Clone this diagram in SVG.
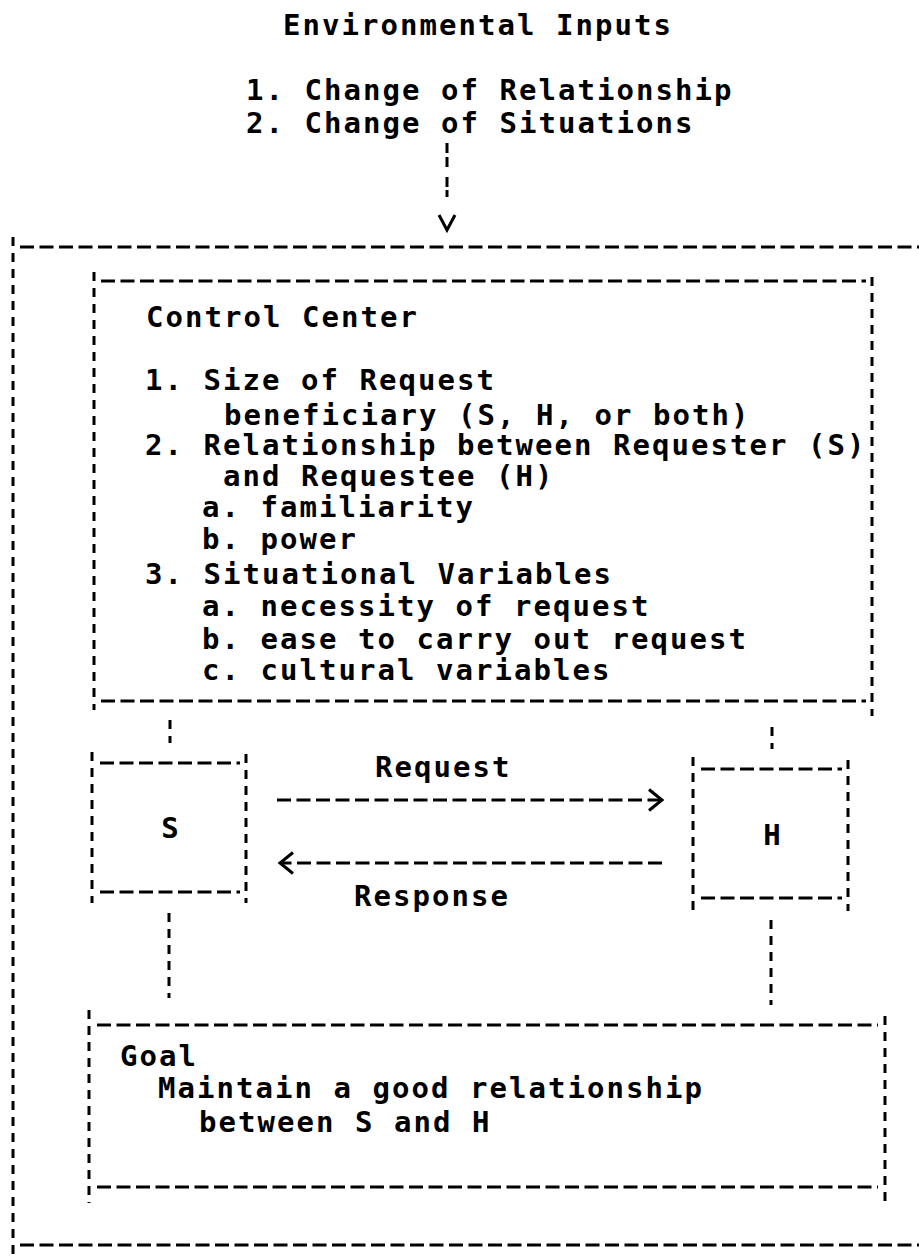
<svg xmlns="http://www.w3.org/2000/svg" width="919" height="1259" viewBox="0 0 919 1259">
  <style>
    text { font-family: "DejaVu Sans Mono", "Liberation Mono", monospace; font-size: 29px; font-weight: bold; letter-spacing: 2.04px; fill: #000; }
    .mid { text-anchor: middle; }
    .h { fill: none; stroke: #000; stroke-width: 3; stroke-dasharray: 14 5.5; }
    .v { fill: none; stroke: #000; stroke-width: 3; stroke-dasharray: 9 7; }
    .arrow { fill: none; stroke: #000; stroke-width: 3; stroke-dasharray: 14 5.5; }
    .tip { fill: none; stroke: #000; stroke-width: 3; stroke-linejoin: miter; }
  </style>
  <defs>
    <marker id="chevron" markerUnits="userSpaceOnUse" viewBox="-20 -15 30 30" markerWidth="30" markerHeight="30" refX="0" refY="0" orient="auto">
      <path class="tip" d="M-13,-10.5 L0,0 L-13,10.5"/>
    </marker>
    <marker id="vee" markerUnits="userSpaceOnUse" viewBox="-20 -15 30 30" markerWidth="30" markerHeight="30" refX="0" refY="0" orient="auto">
      <path class="tip" d="M-15,-8 L0,0 L-15,8"/>
    </marker>
  </defs>

  <rect width="919" height="1259" fill="#fff"/>

  <!-- environmental inputs heading -->
  <g id="environmental-inputs">
    <text x="283" y="35">Environmental Inputs</text>
    <text x="246" y="100">1. Change of Relationship</text>
    <text x="246" y="133">2. Change of Situations</text>
  </g>

  <!-- enclosing system frame (open on the right) -->
  <g id="system-frame">
    <line class="v" x1="13" y1="237" x2="13" y2="1257"/>
    <line class="h" x1="20" y1="247" x2="930" y2="247"/>
    <line class="h" x1="20" y1="1245" x2="930" y2="1245"/>
  </g>

  <!-- control center -->
  <g id="control-center">
    <line class="v" x1="94" y1="272" x2="94" y2="710"/>
    <line class="v" x1="872" y1="277" x2="872" y2="716"/>
    <line class="h" x1="101" y1="281" x2="866" y2="281"/>
    <line class="h" x1="101" y1="701" x2="866" y2="701"/>
    <text x="146" y="327">Control Center</text>
    <text x="145" y="390">1. Size of Request</text>
    <text x="224" y="425">beneficiary (S, H, or both)</text>
    <text x="145" y="455">2. Relationship between Requester (S)</text>
    <text x="223" y="486">and Requestee (H)</text>
    <text x="202" y="517">a. familiarity</text>
    <text x="202" y="549">b. power</text>
    <text x="145" y="584">3. Situational Variables</text>
    <text x="202" y="616">a. necessity of request</text>
    <text x="202" y="649">b. ease to carry out request</text>
    <text x="202" y="680">c. cultural variables</text>
  </g>

  <!-- requester -->
  <g id="node-s">
    <line class="v" x1="92" y1="752" x2="92" y2="903"/>
    <line class="v" x1="246" y1="754" x2="246" y2="903"/>
    <line class="h" x1="100" y1="763" x2="240" y2="763"/>
    <line class="h" x1="100" y1="892" x2="240" y2="892"/>
    <text class="mid" x="171" y="838">S</text>
  </g>

  <!-- requestee -->
  <g id="node-h">
    <line class="v" x1="693" y1="757" x2="693" y2="910"/>
    <line class="v" x1="848" y1="760" x2="848" y2="911"/>
    <line class="h" x1="701" y1="769" x2="842" y2="769"/>
    <line class="h" x1="701" y1="898" x2="842" y2="898"/>
    <text class="mid" x="773" y="845">H</text>
  </g>

  <!-- goal -->
  <g id="goal">
    <line class="v" x1="89" y1="1010" x2="89" y2="1203"/>
    <line class="v" x1="885" y1="1016" x2="885" y2="1204"/>
    <line class="h" x1="97" y1="1025" x2="878" y2="1025"/>
    <line class="h" x1="97" y1="1187" x2="878" y2="1187"/>
    <text x="120" y="1066">Goal</text>
    <text x="158" y="1098">Maintain a good relationship</text>
    <text x="199" y="1132">between S and H</text>
  </g>

  <!-- connectors -->
  <g id="connectors">
    <path d="M447,143 V230" fill="none" stroke="#000" stroke-width="3" stroke-dasharray="10 4 10 10 10 3 7 33" marker-end="url(#vee)"/>
    <line class="v" x1="170" y1="720" x2="170" y2="743"/>
    <line class="v" x1="772" y1="727" x2="772" y2="749"/>
    <line class="v" x1="169" y1="913" x2="169" y2="998"/>
    <line class="v" x1="771" y1="920" x2="771" y2="1005"/>
    <path class="arrow" d="M277,800 H662" marker-end="url(#chevron)"/>
    <path class="arrow" d="M662,863 H280" marker-end="url(#chevron)"/>
    <text x="375" y="777">Request</text>
    <text x="354" y="906">Response</text>
  </g>
</svg>
